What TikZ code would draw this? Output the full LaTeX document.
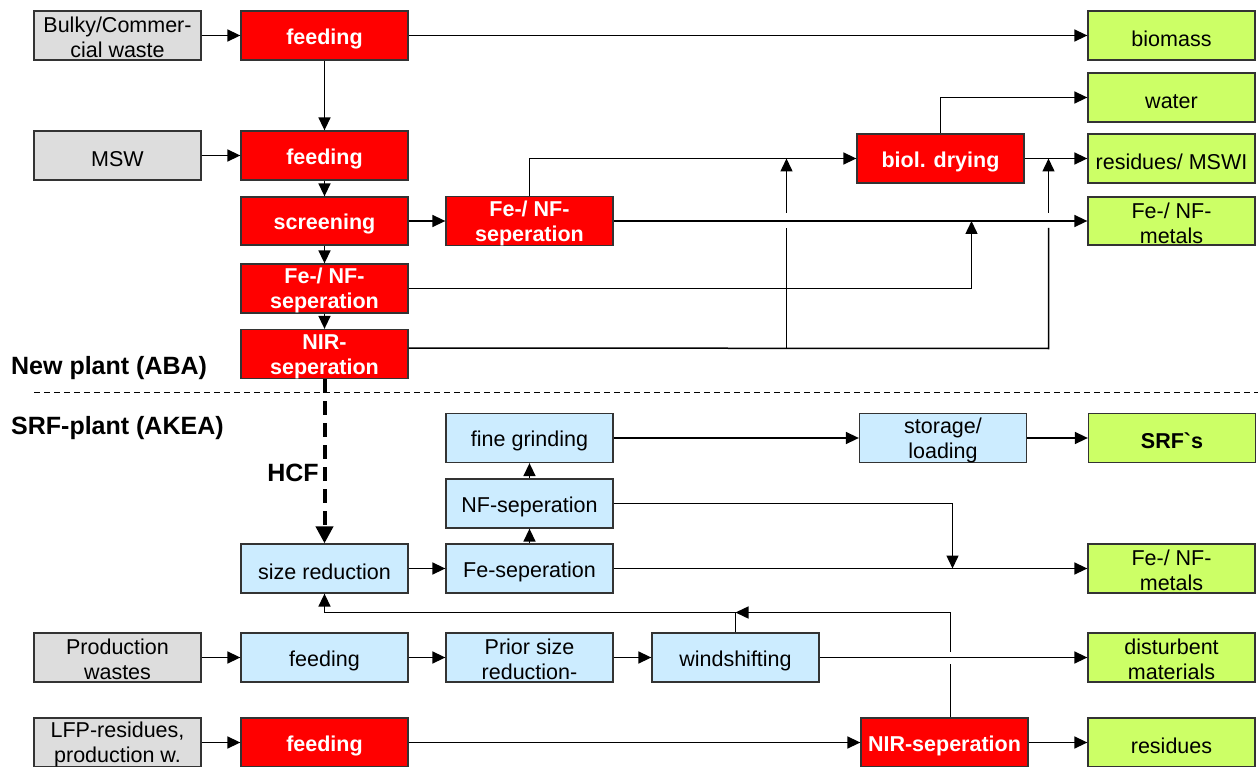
\documentclass[tikz,border=0pt]{standalone}
\usepackage{fontspec}
\setmainfont{Liberation Sans}
\usetikzlibrary{arrows.meta}
\definecolor{grayc}{HTML}{DDDDDD}
\definecolor{redc}{HTML}{FF0000}
\definecolor{bluec}{HTML}{CCECFF}
\definecolor{greenc}{HTML}{CCFF66}
\definecolor{edgec}{HTML}{333333}
\newcommand\myfs{\fontsize{21.5}{25}\selectfont}
\tikzset{
  box/.style={draw=edgec, line width=1.3pt, minimum width=167pt, minimum height=49pt, inner sep=0pt, align=center, font=\myfs,
    execute at begin node={\rule{0pt}{22pt}}},
  two/.style={execute at begin node={\rule{0pt}{44.5pt}}},
  graybox/.style={box, fill=grayc},
  redbox/.style={box, fill=redc, text=white, font=\myfs\bfseries},
  bluebox/.style={box, fill=bluec},
  greenbox/.style={box, fill=greenc},
  arr/.style={line width=1.5pt, -{Triangle[length=13pt,width=12pt]}},
  ln/.style={line width=1.5pt},
  lbl/.style={font=\fontsize{25}{27}\selectfont\bfseries, inner sep=0pt},
}
\begin{document}
\begin{tikzpicture}[x=1pt,y=-1pt]
\useasboundingbox (0,0) rectangle (1258,767);
% inputs
\node[graybox, two] (bulky) at (117.5,35.5) {Bulky/Commer-\\cial waste};
\node[graybox] (msw) at (117.5,155.5) {MSW};
\node[graybox, two] (prod) at (117.5,657.5) {Production\\wastes};
\node[graybox, two] (lfp) at (117.5,742.5) {LFP-residues,\\production w.};
% red column
\node[redbox] (feed1) at (324.5,35.5) {feeding};
\node[redbox] (feed2) at (324.5,155.5) {feeding};
\node[redbox, minimum height=48pt] (screen) at (324.5,221) {screening};
\node[redbox, two] (fenf1) at (324.5,288.5) {Fe-/ NF-\\seperation};
\node[redbox, two, minimum height=48pt] (nir1) at (324.5,354) {NIR-\\seperation};
\node[redbox, two, minimum height=48pt] (fenf2) at (529.5,221) {Fe-/ NF-\\seperation};
\node[redbox] (biol) at (940.5,158.5) {biol. drying};
% outputs top
\node[greenbox] (biomass) at (1171.5,35.5) {biomass};
\node[greenbox] (water) at (1171.5,97.5) {water};
\node[greenbox] (resid1) at (1171.5,158.5) {residues/ MSWI};
\node[greenbox, two, minimum height=48pt] (metals1) at (1171.5,221) {Fe-/ NF-\\metals};
% labels
\node[lbl, anchor=west] (newp) at (11,368) {New plant (ABA)};
\node[lbl, anchor=west] (srfp) at (11,428) {SRF-plant (AKEA)};
\node[lbl] (hcf) at (293,473) {HCF};
% lower part
\node[bluebox] (fine) at (529.5,438) {fine grinding};
\node[bluebox] (nfsep) at (529.5,503.5) {NF-seperation};
\node[bluebox] (fesep) at (529.5,568.5) {Fe-seperation};
\node[bluebox] (sizer) at (324.5,568.5) {size reduction};
\node[bluebox, two] (storage) at (943,438) {storage/\\loading};
\node[greenbox, font=\myfs\bfseries] (srf) at (1172,438) {SRF\textasciigrave s};
\node[greenbox, two] (metals2) at (1171.5,568.5) {Fe-/ NF-\\metals};
\node[bluebox] (feedb) at (324.5,657.5) {feeding};
\node[bluebox, two] (prior) at (529.5,657.5) {Prior size\\reduction-};
\node[bluebox] (windsh) at (735.5,657.5) {windshifting};
\node[greenbox, two] (disturb) at (1171.5,657.5) {disturbent\\materials};
\node[redbox] (feedr) at (324.5,742.5) {feeding};
\node[redbox] (nir2) at (944.5,742.5) {NIR-seperation};
\node[greenbox] (resid2) at (1171.5,742.5) {residues};
% coordinates
\coordinate (j1) at (971.5,221);
\coordinate (a1) at (1048.5,348.5);
\coordinate (a2) at (1048.5,228);
\coordinate (a3) at (1048.5,213);
\coordinate (a4) at (1048.5,158.5);
\coordinate (b1) at (786.5,348.5);
\coordinate (b2) at (786.5,228);
\coordinate (b3) at (786.5,213);
\coordinate (b4) at (786.5,158.5);
\coordinate (d1) at (34,392);
\coordinate (d2) at (1258,392);
\coordinate (k1) at (952.5,568.5);
\coordinate (r1) at (735.5,612.5);
\coordinate (s1) at (950.5,664);
\coordinate (s2) at (950.5,652);
\coordinate (s3) at (950.5,612.5);
% connectors top
\draw[arr] (bulky) -- (feed1);
\draw[arr] (feed1) -- (biomass);
\draw[arr] (feed1) -- (feed2);
\draw[arr] (msw) -- (feed2);
\draw[arr] (feed2) -- (screen);
\draw[arr] (screen) -- (fenf2);
\draw[arr] (screen) -- (fenf1);
\draw[arr] (fenf1) -- (nir1);
\draw[arr] (fenf2.north) |- (biol.west);
\draw[arr] (fenf2) -- (metals1);
\draw[arr] (fenf1.east) -| (j1);
\draw[arr] (biol.north) |- (water.west);
\draw[arr] (biol) -- (resid1);
\draw[ln] ([yshift=6pt]nir1.east) -- (a1) -- (a2);
\draw[arr] (a3) -- (a4);
\draw[ln] (b1) -- (b2);
\draw[arr] (b3) -- (b4);
% divider
\draw[line width=0.8pt, dash pattern=on 6pt off 4pt] (d1) -- (d2);
\draw[line width=4pt, dash pattern=on 14pt off 8pt, -{Triangle[length=17pt,width=17pt]}] (nir1) -- (sizer);
% connectors lower
\draw[arr] (sizer) -- (fesep);
\draw[arr] (fesep) -- (nfsep);
\draw[arr] (nfsep) -- (fine);
\draw[arr] (fine) -- (storage);
\draw[arr] (storage) -- (srf);
\draw[arr] (nfsep.east) -| (k1);
\draw[arr] (fesep) -- (metals2);
\draw[arr] (windsh.north) -- (r1) -| (sizer.south);
\draw[ln] ([xshift=6pt]nir2.north) -- (s1);
\draw[arr] (s2) -- (s3) -- (r1);
\draw[arr] (prod) -- (feedb);
\draw[arr] (feedb) -- (prior);
\draw[arr] (prior) -- (windsh);
\draw[arr] (windsh) -- (disturb);
\draw[arr] (lfp) -- (feedr);
\draw[arr] (feedr) -- (nir2);
\draw[arr] (nir2) -- (resid2);
\end{tikzpicture}
\end{document}
